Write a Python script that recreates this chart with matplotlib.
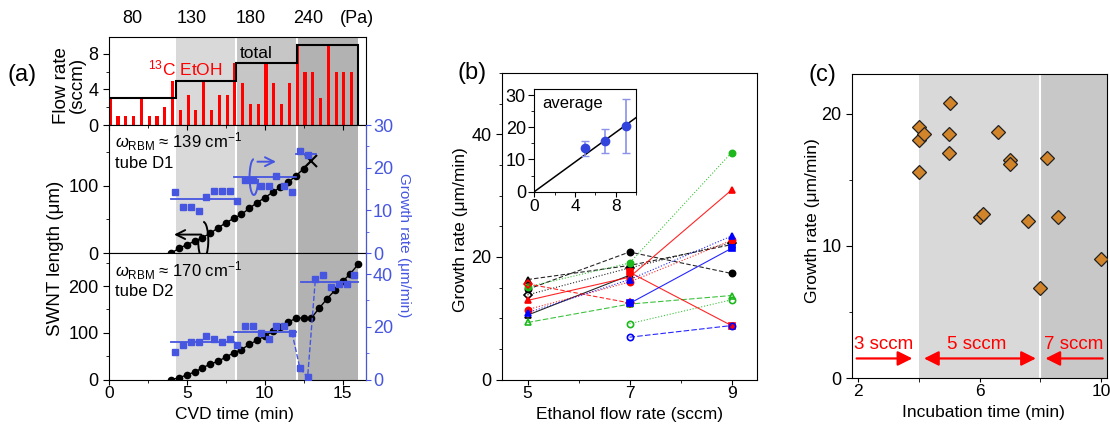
import numpy as np
import matplotlib
matplotlib.use("Agg")
from matplotlib import pyplot as plt
from matplotlib.patches import Arc
from matplotlib.ticker import MultipleLocator

plt.rcParams['font.family'] = ['Liberation Sans', 'DejaVu Sans']
plt.rcParams['mathtext.fontset'] = 'custom'
plt.rcParams['mathtext.rm'] = 'Liberation Sans'
plt.rcParams['mathtext.it'] = 'Liberation Sans:italic'
plt.rcParams['font.size'] = 13
plt.rcParams['xtick.labelsize'] = 12.5
plt.rcParams['ytick.labelsize'] = 13
plt.rcParams['xtick.major.pad'] = 1.5

# ---- panel (a) data ----
pressure_labels = ['80', '130', '180', '240', '(Pa)']
pressure_pos = [1.5, 5.3, 9.1, 12.8, 15.9]
step_edges = [0, 4.3, 8.15, 12.05, 16.0]
total_flow = [3, 5, 7, 9]
pulse_t = np.arange(32) * 0.5 + 0.08
pulse_flow = [3, 1, 1, 1, 3, 1, 1, 2,
              5, 1.67, 3.33, 1.67, 5, 1.67, 3.33, 3.33,
              7, 4.67, 2.33, 2.33, 7, 4.67, 2.33, 4.67,
              9, 6, 6, 3, 9, 6, 6, 6]

d1_t = np.arange(18) * 0.5 + 4.0
d1_len = [0, 7, 12.5, 17.5, 23, 29.5, 37.5, 45, 51.5, 57.5, 66.5, 75,
          82.5, 90.5, 98, 105.5, 115, 126]
d1_end = (13.0, 137.5)
d1_rate_t = np.arange(18) * 0.5 + 4.25
d1_rate = [14.4, 10.7, 10.7, 9.8, 13.2, 14.5, 14.5, 14.5, 12.2,
           17.1, 17.1, 15.8, 15.8, 18.1, 15.8, 14.4, 23.9, 23.0]
d1_avg = [(4.0, 8.0, 12.6), (8.0, 12.0, 17.7), (12.0, 13.3, 23.3)]

d2_t = np.arange(25) * 0.5 + 4.0
d2_len = [0, 3.5, 10, 16, 25, 33, 39, 48, 57, 64, 75, 84, 93, 103, 113,
          123, 131, 132, 132, 153, 173, 191, 210, 227, 247]
d2_rate_t = np.arange(24) * 0.5 + 4.25
d2_rate = [10.5, 13.0, 14.3, 14.3, 16.6, 15.2, 14.1, 15.2, 13.0,
           20.3, 20.3, 17.7, 15.2, 20.3, 20.3, 17.8, 4.4, 0.8,
           38.1, 39.6, 35.0, 36.1, 36.1, 39.6]
d2_avg = [(4.0, 8.0, 14.3), (8.0, 12.0, 18.0), (12.3, 16.0, 36.9)]

# ---- panel (b) data ----
flow = [5, 7, 9]
nan = np.nan
blk_tri_f = [16.3, 18.6, 22.0]
blk_cir_f = [14.7, 20.8, 17.3]
blk_dia_o = [13.8, 18.2, 22.3]
blk_tri_o = [10.5, 17.0, nan]
grn_cir_f = [15.1, 19.0, 37.0]
grn_tri_o = [9.3, 12.3, 13.7]
grn_cir_o = [nan, 9.1, 13.0]
red_dia_o = [15.6, 12.5, nan]
red_tri_f = [12.9, 16.7, 30.9]
red_cir_f = [11.4, 15.9, 22.7]
red_sq_f = [nan, 17.5, 8.8]
blu_tri_f = [10.9, 16.3, 23.4]
blu_sq_f = [nan, 12.4, 21.4]
blu_cir_o = [nan, 6.9, 8.8]

avg_flow = [5, 7, 9]
avg_rate = [13.5, 15.6, 20.4]
avg_lo = [11.2, 11.9, 11.9]
avg_hi = [15.7, 19.4, 28.7]
fit_slope = 2.3

# ---- panel (c) data ----
incub_t = [4.0, 4.0, 4.17, 4.0, 5.03, 5.0, 5.0, 6.0, 6.13, 6.6, 7.0, 7.0,
           7.6, 8.0, 8.23, 8.6, 10.0]
incub_rate = [19.0, 18.0, 18.5, 15.6, 20.8, 18.5, 17.0, 12.2, 12.4, 18.6,
              16.5, 16.2, 11.9, 6.85, 16.65, 12.2, 9.0]

W, H = 1110, 424
fig = plt.figure(figsize=(W / 100, H / 100), dpi=100)


def box(l, t, r, b):
    return [l / W, 1 - b / H, (r - l) / W, (b - t) / H]


BLUE = '#4656e0'
shades = ['#d9d9d9', '#c6c6c6', '#b2b2b2']

ax_top = fig.add_axes(box(109, 37, 366, 125))
ax_mid = fig.add_axes(box(109, 125, 366, 253))
ax_bot = fig.add_axes(box(109, 253, 366, 379.5))

for ax in (ax_top, ax_mid, ax_bot):
    for i in range(3):
        ax.axvspan(step_edges[i + 1], step_edges[i + 2] if i < 2 else step_edges[4],
                   color=shades[i], lw=0, zorder=0)
    for e in step_edges[2:4]:
        ax.axvline(e, color='white', lw=1.5, zorder=0.5)
    ax.set_xlim(0, 16.5)
    ax.xaxis.set_major_locator(MultipleLocator(5))
    ax.xaxis.set_minor_locator(MultipleLocator(2.5))

# top: flow rate
ax_top.bar(pulse_t, pulse_flow, width=0.2, color='red', zorder=2)
ax_top.stairs(total_flow, step_edges, color='black', lw=1.5, zorder=3)
ax_top.set_ylim(0, 9.9)
ax_top.yaxis.set_major_locator(MultipleLocator(4))
ax_top.yaxis.set_minor_locator(MultipleLocator(2))
ax_top.tick_params(axis='x', which='both', labelbottom=False, length=0)
ax_top.text(2.5, 5.55, r'$^{13}$C EtOH', color='red', fontsize=12.5, va='baseline')
ax_top.text(8.4, 8.1, 'total', color='black', fontsize=12.5, va='center')
for lab, p in zip(pressure_labels, pressure_pos):
    ax_top.text(p, 1.215, lab, transform=ax_top.get_xaxis_transform(),
                ha='center', va='center', fontsize=13)
ax_top.set_ylabel('Flow rate\n(sccm)', linespacing=0.95, fontsize=13.5)
ax_top.yaxis.set_label_coords(-0.09, 0.45)

# middle: tube D1
ax_mid.plot(d1_t, d1_len, '-o', color='black', ms=4.5, lw=1, zorder=4)
ax_mid.plot([d1_t[-1], d1_end[0]], [d1_len[-1], d1_end[1]], '-', color='black', lw=1)
ax_mid.plot(*d1_end, 'x', color='black', ms=9, mew=1.5)
ax_mid.set_ylim(0, 191)
ax_mid.yaxis.set_major_locator(MultipleLocator(100))
ax_mid.yaxis.set_minor_locator(MultipleLocator(50))
ax_mid.tick_params(axis='x', which='both', direction='in', top=True, bottom=False,
                   labelbottom=False)
ax_mid.text(0.4, 166, r'$\omega_{\rm RBM}$ ≈ 139 cm$^{-1}$', fontsize=12, va='center')
ax_mid.text(0.4, 134, 'tube D1', fontsize=12, va='center')
ax_mid.annotate('', xy=(4.0, 27.5), xytext=(6.1, 27.5),
                arrowprops=dict(arrowstyle='->', color='black', lw=1.4,
                                mutation_scale=16))
ax_mid.add_patch(Arc((6.05, 19), 0.65, 55, theta1=-110, theta2=90, color='black',
                     lw=1.4, clip_on=False))

axr1 = ax_mid.twinx()
axr1.plot(d1_rate_t, d1_rate, 's', color=BLUE, ms=4, zorder=3)
for a, b, v in d1_avg:
    axr1.plot([a, b], [v, v], '-', color=BLUE, lw=1.3)
axr1.set_ylim(0, 30)
axr1.yaxis.set_major_locator(MultipleLocator(10))
axr1.yaxis.set_minor_locator(MultipleLocator(5))
axr1.annotate('', xy=(10.9, 21.4), xytext=(9.35, 21.4),
              arrowprops=dict(arrowstyle='->', color=BLUE, lw=1.4, mutation_scale=16))
axr1.add_patch(Arc((9.3, 17.8), 0.55, 8.4, theta1=90, theta2=300, color=BLUE, lw=1.4))

# bottom: tube D2
ax_bot.plot(d2_t, d2_len, '-o', color='black', ms=4.5, lw=1, zorder=4)
ax_bot.set_ylim(0, 271)
ax_bot.yaxis.set_major_locator(MultipleLocator(100))
ax_bot.yaxis.set_minor_locator(MultipleLocator(50))
ax_bot.set_xticks([0, 5, 10, 15])
ax_bot.tick_params(axis='x', which='both', direction='out')
ax_bot.text(0.4, 234, r'$\omega_{\rm RBM}$ ≈ 170 cm$^{-1}$', fontsize=12, va='center')
ax_bot.text(0.4, 188, 'tube D2', fontsize=12, va='center')

axr2 = ax_bot.twinx()
axr2.plot(d2_rate_t, d2_rate, 's', color=BLUE, ms=4, zorder=3)
axr2.plot(d2_rate_t[15:19], d2_rate[15:19], '--', color=BLUE, lw=1)
for a, b, v in d2_avg:
    axr2.plot([a, b], [v, v], '-', color=BLUE, lw=1.3)
axr2.set_ylim(0, 48)
axr2.yaxis.set_major_locator(MultipleLocator(20))
axr2.yaxis.set_minor_locator(MultipleLocator(10))

for axr in (axr1, axr2):
    axr.spines['right'].set_color(BLUE)
    axr.tick_params(axis='y', which='both', colors=BLUE, pad=1.5)
    axr.spines['left'].set_visible(False)
    axr.spines['top'].set_visible(False)
    axr.spines['bottom'].set_visible(False)

fig.text(56 / W, 1 - 258 / H, 'SWNT length (μm)', rotation=90, ha='center',
         va='center', fontsize=13.5)
fig.text(404 / W, 1 - 245 / H, 'Growth rate (μm/min)', rotation=-90, ha='center',
         va='center', fontsize=11, color=BLUE)
fig.text(234 / W, 1 - 415 / H, 'CVD time (min)', ha='center', va='center',
         fontsize=12.5)

# ---- panel (b) ----
axb = fig.add_axes(box(502, 73, 757, 379.5))
GRN = '#1cb81c'
series = [
    (blk_tri_f, 'black', '^', True, (0, (4, 2))),
    (blk_cir_f, 'black', 'o', True, (0, (4, 2))),
    (blk_dia_o, 'black', 'D', False, ':'),
    (blk_tri_o, 'black', '^', False, '-'),
    (grn_cir_f, GRN, 'o', True, ':'),
    (grn_tri_o, GRN, '^', False, (0, (5, 2))),
    (grn_cir_o, GRN, 'o', False, ':'),
    (red_dia_o, 'red', 'D', False, (0, (4, 2))),
    (red_tri_f, 'red', '^', True, '-'),
    (red_cir_f, 'red', 'o', True, ':'),
    (red_sq_f, 'red', 's', True, '-'),
    (blu_tri_f, 'blue', '^', True, ':'),
    (blu_sq_f, 'blue', 's', True, '-'),
    (blu_cir_o, 'blue', 'o', False, (0, (5, 2))),
]
for ys, c, m, filled, ls in series:
    axb.plot(flow, ys, linestyle=ls, color=c, lw=0.8, alpha=0.85)
    axb.plot(flow, ys, linestyle='none', marker=m, ms=4.5, mew=1.2, color=c,
             mfc=c if filled else 'none')
axb.set_xlim(4.5, 9.5)
axb.set_ylim(0, 50)
axb.set_xticks([5, 7, 9])
axb.xaxis.set_minor_locator(MultipleLocator(1))
axb.yaxis.set_major_locator(MultipleLocator(20))
axb.yaxis.set_minor_locator(MultipleLocator(5))
fig.text(460 / W, 1 - 230 / H, 'Growth rate (μm/min)', rotation=90, ha='center',
         va='center', fontsize=12.5)
fig.text(630 / W, 1 - 415 / H, 'Ethanol flow rate (sccm)', ha='center', va='center',
         fontsize=12.5)

axi = fig.add_axes(box(534.3, 89.3, 636, 191.7))
xf = np.array([0, 10])
axi.plot(xf, fit_slope * xf, '-', color='black', lw=1.1)
yerr = [np.array(avg_rate) - np.array(avg_lo), np.array(avg_hi) - np.array(avg_rate)]
axi.errorbar(avg_flow, avg_rate, yerr=yerr, fmt='none', ecolor='#8a92ea', elinewidth=1.2,
             capsize=3)
axi.plot(avg_flow, avg_rate, 'o', color='#3344dd', ms=6)
axi.set_xlim(0, 10)
axi.set_ylim(0, 31.8)
axi.set_xticks([0, 4, 8])
axi.xaxis.set_minor_locator(MultipleLocator(2))
axi.yaxis.set_major_locator(MultipleLocator(10))
axi.yaxis.set_minor_locator(MultipleLocator(5))
axi.tick_params(pad=2)
axi.text(0.08, 0.93, 'average', transform=axi.transAxes, va='top', fontsize=12)

# ---- panel (c) ----
axc = fig.add_axes(box(852, 74, 1107, 378.3))
axc.axvspan(4.0, 8.0, color='#d9d9d9', lw=0, zorder=0)
axc.axvspan(8.0, 10.3, color='#c8c8c8', lw=0, zorder=0)
axc.axvline(8.0, color='white', lw=1.5, zorder=0.5)
axc.plot(incub_t, incub_rate, 'D', color='#d2842a', mec='#222222', mew=0.9, ms=7.5,
         zorder=3)
axc.set_xlim(1.8, 10.2)
axc.set_ylim(0, 23)
axc.set_xticks([2, 6, 10])
axc.xaxis.set_minor_locator(MultipleLocator(2))
axc.yaxis.set_major_locator(MultipleLocator(10))
axc.yaxis.set_minor_locator(MultipleLocator(5))
axc.tick_params(axis='x', which='both', length=3, pad=1)
arw = dict(arrowstyle='-|>', color='red', lw=1.6, mutation_scale=22)
axc.annotate('', xy=(3.88, 1.5), xytext=(1.86, 1.5), arrowprops=arw)
axc.annotate('', xy=(7.95, 1.5), xytext=(4.08, 1.5),
             arrowprops=dict(arrowstyle='<|-|>', color='red', lw=1.6, mutation_scale=22))
axc.annotate('', xy=(8.08, 1.5), xytext=(10.15, 1.5), arrowprops=arw)
axc.text(2.85, 2.55, '3 sccm', color='red', ha='center', va='center', fontsize=13.5)
axc.text(5.9, 2.55, '5 sccm', color='red', ha='center', va='center', fontsize=13.5)
axc.text(9.1, 2.55, '7 sccm', color='red', ha='center', va='center', fontsize=13.5)
fig.text(813 / W, 1 - 221 / H, 'Growth rate (μm/min)', rotation=90, ha='center',
         va='center', fontsize=12.5)
fig.text(983 / W, 1 - 412 / H, 'Incubation time (min)', ha='center', va='center',
         fontsize=12.5)

# panel letters
fig.text(22 / W, 1 - 75 / H, '(a)', ha='center', va='center', fontsize=17)
fig.text(472 / W, 1 - 73 / H, '(b)', ha='center', va='center', fontsize=17)
fig.text(822 / W, 1 - 75 / H, '(c)', ha='center', va='center', fontsize=17)

for ax in (ax_top, ax_mid, ax_bot, axb, axi, axc):
    ax.tick_params(axis='y', which='major', length=4)
    ax.tick_params(axis='y', which='minor', length=2.5)

fig.savefig('out.png', dpi=100)
